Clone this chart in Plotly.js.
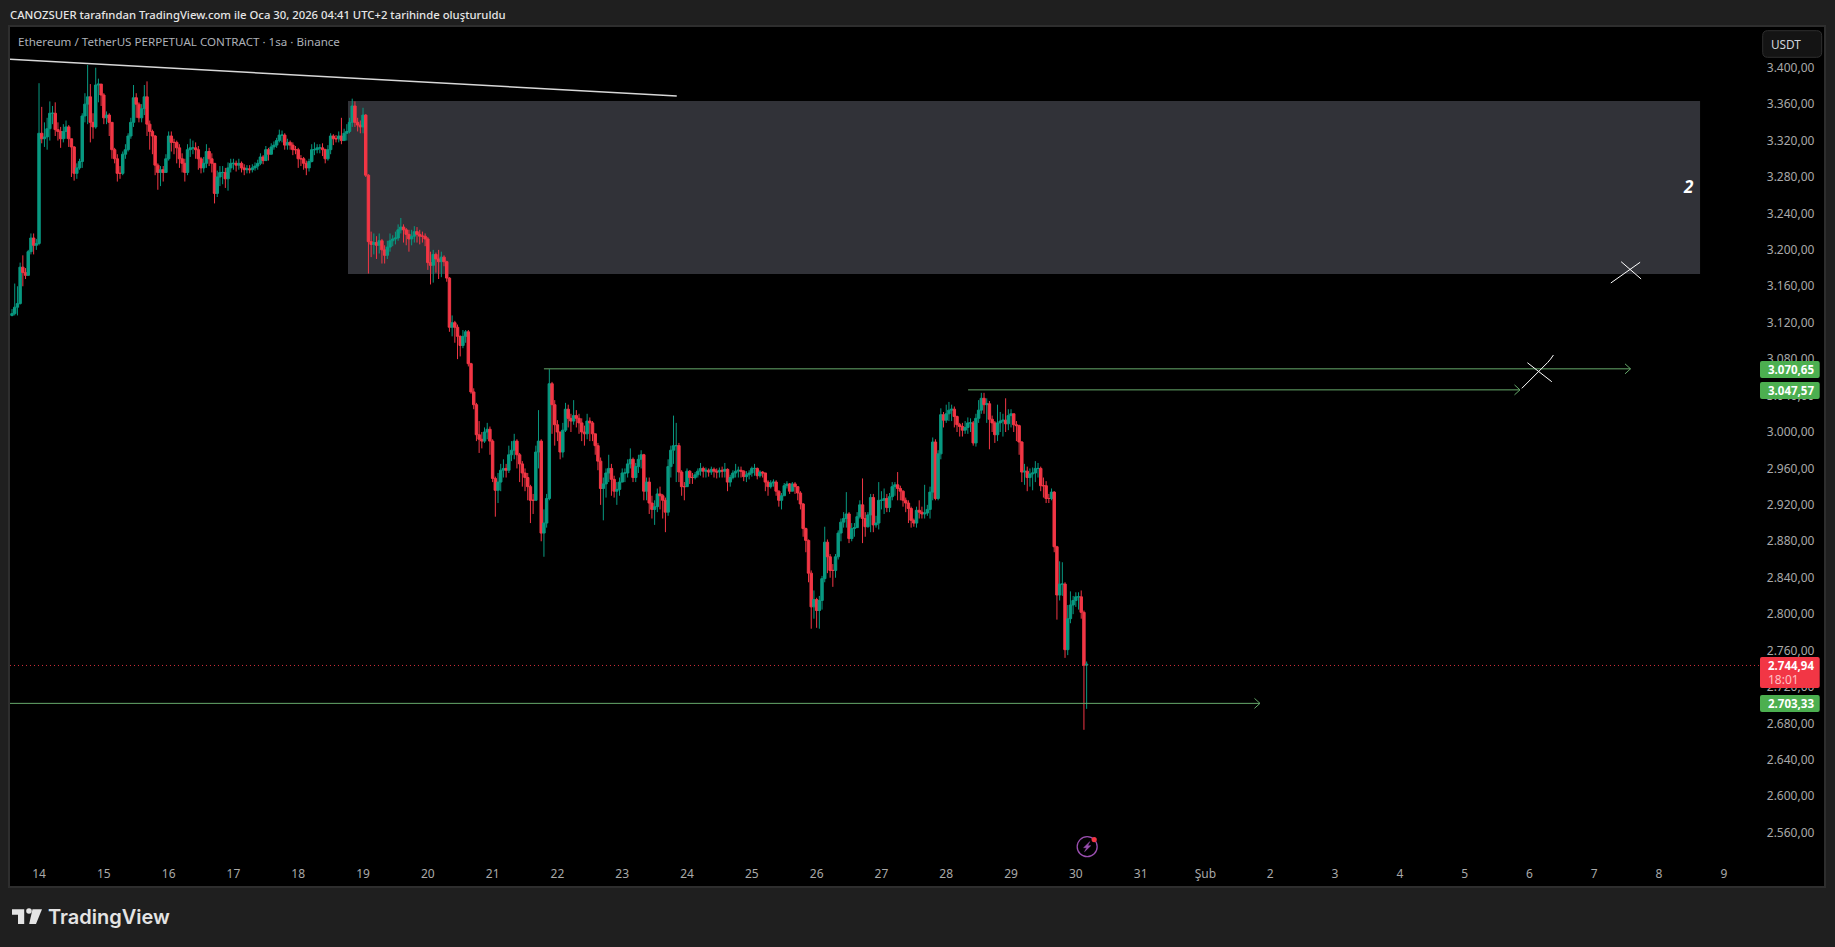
<!DOCTYPE html>
<html><head><meta charset="utf-8">
<script src="https://cdn.plot.ly/plotly-3.0.1.min.js"></script>
<style>html,body{margin:0;padding:0;background:#1f1f1f;overflow:hidden}#c{width:1835px;height:947px}</style>
</head><body><div id="c"></div>
<script>
// Hourly candles, rows: Jan 13 (from 14:00), Jan 14 ... Jan 29, Jan 30 (to 04:00)
const closeRows = [
[3130,3137,3141,3181,3175,3172,3198,3213,3205,3207],
[3328,3322,3324,3333,3350,3350,3332,3330,3322,3330,3335,3322,3313,3284,3290,3297,3347,3360,3368,3340,3335,3381,3382,3370],
[3345,3348,3340,3310,3300,3284,3284,3305,3310,3325,3340,3367,3360,3345,3355,3368,3338,3330,3325,3293,3285,3288,3285,3300],
[3325,3318,3318,3312,3300,3295,3285,3310,3312,3312,3310,3300,3290,3295,3308,3300,3295,3262,3280,3285,3285,3278,3290,3295],
[3295,3293,3295,3290,3288,3289,3288,3290,3292,3295,3302,3298,3310,3305,3313,3315,3320,3326,3326,3315,3318,3315,3310,3310],
[3300,3300,3295,3290,3297,3310,3310,3312,3312,3310,3300,3310,3325,3322,3322,3325,3320,3328,3330,3340,3358,3340,3337,3335],
[3348,3282,3209,3206,3208,3205,3210,3200,3194,3203,3210,3212,3213,3222,3225,3222,3217,3212,3215,3220,3217,3215,3215,3212],
[3186,3183,3195,3190,3187,3192,3187,3169,3115,3120,3115,3105,3095,3105,3110,3075,3044,3030,2997,2992,2990,3000,3003,2990],
[2949,2936,2945,2958,2960,2958,2975,2980,2990,2975,2965,2955,2950,2940,2925,2925,2978,2990,2889,2900,2927,3053,3030,3008],
[3000,2978,3002,3025,3015,3012,3018,3015,3010,3000,2998,3012,3010,2998,2985,2968,2938,2943,2955,2960,2948,2935,2937,2945],
[2955,2955,2965,2970,2950,2962,2970,2975,2935,2945,2922,2915,2918,2932,2930,2925,2912,2962,2980,2985,2985,2956,2940,2940],
[2957,2950,2950,2953,2957,2960,2957,2958,2956,2959,2957,2956,2958,2957,2959,2945,2950,2955,2957,2958,2957,2951,2953,2955],
[2960,2960,2952,2956,2955,2945,2940,2944,2945,2935,2925,2930,2941,2943,2935,2943,2940,2933,2921,2894,2881,2845,2808,2816],
[2804,2815,2839,2879,2863,2848,2848,2863,2889,2901,2905,2910,2883,2894,2895,2907,2920,2905,2896,2909,2928,2898,2900,2925],
[2925,2927,2917,2929,2940,2942,2938,2935,2925,2922,2916,2903,2900,2914,2912,2910,2911,2915,2934,2989,2927,2976,3019,3013],
[3020,3024,3025,3017,3008,3006,3002,3005,3010,3010,2988,3015,3024,3037,3030,3031,3014,3010,2997,3010,3012,3013,3009,3018],
[3020,3008,3007,2989,2956,2957,2950,2954,2955,2960,2960,2941,2941,2927,2927,2934,2874,2821,2833,2833,2761,2795,2810,2815],
[2819,2819,2802,2744,2744.94]
];
const highRows = [
[3135,3163,3160,3186,3194,3180,3200,3218,3218,3212],
[3383,3357,3340,3345,3363,3358,3362,3340,3335,3338,3342,3337,3322,3314,3295,3300,3350,3372,3403,3382,3350,3400,3388,3382],
[3372,3352,3350,3340,3312,3305,3292,3308,3316,3328,3345,3381,3372,3362,3360,3381,3385,3342,3332,3326,3295,3292,3292,3305],
[3330,3330,3322,3320,3316,3306,3300,3316,3322,3320,3318,3314,3302,3302,3316,3312,3306,3295,3287,3292,3292,3290,3296,3300],
[3300,3298,3300,3297,3294,3293,3293,3294,3296,3299,3306,3304,3314,3312,3317,3319,3323,3332,3331,3328,3322,3320,3318,3314],
[3312,3304,3302,3298,3300,3316,3318,3316,3316,3317,3311,3315,3328,3327,3326,3330,3345,3333,3338,3345,3366,3363,3345,3342],
[3356,3349,3283,3220,3218,3215,3218,3212,3205,3210,3218,3216,3220,3228,3235,3228,3224,3222,3222,3226,3225,3222,3220,3218],
[3214,3198,3200,3197,3200,3198,3194,3188,3170,3128,3122,3118,3106,3112,3112,3112,3076,3048,3032,3012,3000,3005,3010,3006],
[2992,2951,2955,2965,2970,2965,2985,2990,2998,2992,2977,2968,2960,2955,2942,2932,2985,3024,2992,2915,2932,3069,3055,3035],
[3013,3000,3010,3032,3030,3020,3035,3024,3020,3015,3007,3020,3016,3012,2998,2988,2972,2950,2960,2975,2965,2952,2945,2950],
[2960,2960,2970,2982,2972,2966,2975,2980,2976,2950,2950,2930,2925,2938,2940,2932,2928,2970,2985,3018,3010,2988,2958,2945],
[2960,2958,2955,2956,2960,2966,2962,2961,2960,2962,2961,2960,2961,2962,2966,2960,2953,2958,2965,2962,2962,2958,2957,2958],
[2962,2965,2961,2958,2957,2955,2947,2947,2948,2947,2936,2933,2944,2946,2944,2945,2945,2940,2935,2922,2895,2882,2848,2826],
[2818,2820,2842,2896,2882,2866,2855,2866,2892,2905,2912,2934,2912,2900,2900,2912,2925,2949,2912,2912,2932,2932,2908,2945],
[2935,2938,2932,2933,2945,2945,2956,2941,2936,2928,2925,2918,2905,2918,2925,2918,2942,2920,2940,2994,2992,2980,3026,3022],
[3030,3033,3030,3028,3018,3010,3010,3012,3016,3015,3012,3020,3035,3043,3043,3037,3034,3018,3012,3030,3022,3020,3037,3025],
[3025,3020,3012,3008,2990,2965,2962,2960,2961,2968,2966,2962,2950,2946,2932,2938,2935,2875,2858,2857,2835,2810,2825,2820],
[2824,2824,2826,2804,2748]
];
const lowRows = [
[3127,3128,3128,3140,3160,3168,3172,3195,3195,3200],
[3205,3317,3313,3310,3320,3338,3325,3320,3312,3318,3322,3313,3280,3276,3278,3288,3290,3340,3338,3318,3322,3333,3362,3358],
[3338,3338,3325,3300,3295,3275,3278,3282,3300,3308,3322,3335,3345,3340,3340,3348,3325,3310,3305,3282,3266,3270,3275,3285],
[3298,3308,3305,3295,3290,3285,3275,3282,3302,3305,3300,3288,3284,3285,3290,3292,3285,3251,3258,3270,3272,3268,3265,3285],
[3288,3286,3288,3285,3282,3284,3284,3285,3287,3288,3293,3294,3298,3298,3306,3310,3312,3318,3318,3310,3310,3310,3304,3305],
[3290,3292,3288,3282,3286,3296,3304,3306,3306,3303,3295,3298,3305,3315,3318,3318,3316,3320,3320,3328,3335,3335,3330,3328],
[3328,3280,3174,3192,3195,3190,3196,3185,3185,3190,3198,3204,3206,3210,3218,3208,3205,3198,3205,3208,3208,3206,3208,3204],
[3178,3162,3164,3175,3168,3170,3182,3165,3110,3105,3098,3080,3083,3092,3098,3072,3042,3025,2990,2977,2982,2988,2992,2975],
[2945,2907,2922,2935,2950,2950,2955,2968,2970,2960,2945,2940,2935,2925,2900,2910,2925,2960,2880,2863,2895,2925,2998,2985],
[2990,2970,2972,3000,3005,3000,3008,3005,2998,2990,2985,2992,2990,2990,2975,2958,2920,2903,2928,2945,2930,2928,2920,2930],
[2945,2945,2950,2960,2945,2945,2955,2960,2925,2925,2910,2905,2898,2912,2915,2905,2890,2908,2950,2965,2945,2945,2930,2925],
[2945,2943,2943,2948,2950,2952,2950,2950,2951,2953,2950,2949,2950,2950,2950,2935,2940,2948,2950,2950,2950,2946,2945,2948],
[2951,2952,2948,2950,2950,2935,2930,2938,2940,2930,2918,2915,2930,2938,2932,2935,2932,2925,2915,2885,2868,2835,2784,2795],
[2785,2784,2805,2835,2845,2840,2830,2840,2860,2880,2895,2895,2878,2880,2885,2895,2905,2878,2885,2895,2890,2890,2895,2893],
[2915,2910,2912,2912,2925,2930,2925,2925,2918,2912,2900,2895,2896,2895,2905,2905,2905,2908,2905,2925,2925,2925,2970,3005],
[3010,3012,3012,3005,3000,2995,2995,2998,2998,3000,2985,2984,3010,3020,3020,3010,2981,3000,2988,2990,3000,2995,3000,3002],
[3005,3000,2990,2975,2945,2942,2935,2940,2936,2945,2950,2935,2928,2922,2922,2925,2868,2794,2815,2820,2752,2755,2790,2800],
[2808,2805,2795,2673,2696]
];
const firstOpen = 3128;
const firstHour = -10;           // hours from 2026-01-14 00:00

const tickDates = ['2026-01-14','2026-01-15','2026-01-16','2026-01-17','2026-01-18','2026-01-19','2026-01-20','2026-01-21','2026-01-22','2026-01-23','2026-01-24','2026-01-25','2026-01-26','2026-01-27','2026-01-28','2026-01-29','2026-01-30','2026-01-31','2026-02-01','2026-02-02','2026-02-03','2026-02-04','2026-02-05','2026-02-06','2026-02-07','2026-02-08','2026-02-09'];
const tickLabels = ['14','15','16','17','18','19','20','21','22','23','24','25','26','27','28','29','30','31','Şub','2','3','4','5','6','7','8','9'];
const priceLast = 2744.94, levelA = 3070.65, levelB = 3047.57, levelC = 2703.33;
const lineNudge = 1.3; // drawn line sits this far under its printed price in the reference

closeRows.forEach((r,i)=>{ if(r.length!==highRows[i].length||r.length!==lowRows[i].length||(i>0&&i<17&&r.length!==24)) throw new Error('row '+i+' '+r.length+' '+highRows[i].length+' '+lowRows[i].length); });
const closes = closeRows.flat(), highs = highRows.flat(), lows = lowRows.flat();
const opens = closes.map((c,i)=> i? closes[i-1] : firstOpen);
const stamp = h => new Date(Date.UTC(2026,0,14,h)).toISOString().slice(0,19).replace('T',' ');
const times = closes.map((c,i)=> stamp(firstHour+i));

const W=1835,H=947,L=10,R=11,T=27,B=61;
const px = x => (x-L)/(W-L-R), py = y => 1-(y-T)/(H-T-B);
const xLeft='2026-01-13 13:15', xRight='2026-02-10 13:06';

function rrect(x0,y0,x1,y1,r){
  const X=a=>px(a).toFixed(5), Y=a=>py(a).toFixed(5);
  return `M ${X(x0+r)} ${Y(y0)} L ${X(x1-r)} ${Y(y0)} Q ${X(x1)} ${Y(y0)} ${X(x1)} ${Y(y0+r)} L ${X(x1)} ${Y(y1-r)} Q ${X(x1)} ${Y(y1)} ${X(x1-r)} ${Y(y1)} L ${X(x0+r)} ${Y(y1)} Q ${X(x0)} ${Y(y1)} ${X(x0)} ${Y(y1-r)} L ${X(x0)} ${Y(y0+r)} Q ${X(x0)} ${Y(y0)} ${X(x0+r)} ${Y(y0)} Z`;
}
const poly = pts => 'M '+pts.map(p=>px(p[0]).toFixed(5)+' '+py(p[1]).toFixed(5)).join(' L ')+' Z';
const pinned = (xa,ya,path,color,w,fill)=>({type:'path',xref:'x',yref:'y',xsizemode:'pixel',ysizemode:'pixel',xanchor:xa,yanchor:ya,path,line:{color,width:w},fillcolor:fill||'rgba(0,0,0,0)'});
const GREEN='#66a96b', RED='#f23645', TAG='#4caf50', LOGO='#e4e4e4';
const yA=levelA-lineNudge, yB=levelB-lineNudge, yC=levelC-lineNudge, yP=priceLast-lineNudge;

const shapes=[
 {type:'rect',xref:'x',yref:'y',x0:'2026-01-18 18:26',x1:'2026-02-08 15:12',y0:3173.4,y1:3363.4,fillcolor:'#313238',line:{width:0},layer:'below'},
 {type:'line',xref:'x',yref:'y',x0:xLeft,x1:'2026-01-23 20:12',y0:3409.2,y1:3368.9,line:{color:'#d8d8d8',width:1.5}},
 {type:'line',xref:'x',yref:'y',x0:xLeft,x1:'2026-02-09 13:24',y0:yP,y1:yP,line:{color:'rgba(242,54,69,0.85)',width:1,dash:'1px,3px'}},
 {type:'line',xref:'x',yref:'y',x0:'2026-01-21 19:00',x1:'2026-02-07 13:26',y0:yA,y1:yA,line:{color:GREEN,width:1}},
 {type:'line',xref:'x',yref:'y',x0:'2026-01-28 08:06',x1:'2026-02-05 20:30',y0:yB,y1:yB,line:{color:GREEN,width:1}},
 {type:'line',xref:'x',yref:'y',x0:xLeft,x1:'2026-02-01 20:12',y0:yC,y1:yC,line:{color:GREEN,width:1}},
 pinned('2026-02-07 13:26',yA,'M -5.5 -5 L 0 0 L -5.5 5',GREEN,1),
 pinned('2026-02-05 20:30',yB,'M -5.5 -5 L 0 0 L -5.5 5',GREEN,1),
 pinned('2026-02-01 20:12',yC,'M -5.5 -5 L 0 0 L -5.5 5',GREEN,1),
 pinned('2026-02-07 13:18',3176.8,'M -19.3 -12 L 10 8.7','#ffffff',1),
 pinned('2026-02-07 13:18',3176.8,'M -9 9.3 L 11 -8','#ffffff',1),
 pinned('2026-02-06 03:24',3066.4,'M -16.8 -16.8 L 9 9 Q 12 12 14.8 16.5','#ffffff',1),
 pinned('2026-02-06 03:24',3066.4,'M -11.2 8.8 L 13.2 -10.2','#ffffff',1),
 // price tags
 {type:'path',xref:'paper',yref:'paper',path:rrect(1760,361,1819.7,378,2),fillcolor:TAG,line:{width:0}},
 {type:'path',xref:'paper',yref:'paper',path:rrect(1760,382,1819.7,399,2),fillcolor:TAG,line:{width:0}},
 {type:'path',xref:'paper',yref:'paper',path:rrect(1760,657,1819.7,688,2),fillcolor:RED,line:{width:0}},
 {type:'path',xref:'paper',yref:'paper',path:rrect(1760,695,1819.7,712,2),fillcolor:TAG,line:{width:0}},
 // USDT button
 {type:'path',xref:'paper',yref:'paper',path:rrect(1762.7,30.7,1821.7,57.3,5),fillcolor:'#141414',line:{color:'#2f2f2f',width:1}},
 // event icon
 {type:'circle',xref:'x',yref:'y',xsizemode:'pixel',ysizemode:'pixel',xanchor:'2026-01-30 04:12',yanchor:2544.7,x0:-10,x1:10,y0:-10,y1:10,line:{color:'#9a4fb0',width:1.3},fillcolor:'rgba(0,0,0,0)'},
 pinned('2026-01-30 04:12',2544.7,'M 2.6 5 L -3.6 -1 L -0.5 -1 L -2.6 -5 L 3.6 1 L 0.5 1 Z','#9a4fb0',0.5,'#9a4fb0'),
 {type:'circle',xref:'x',yref:'y',xsizemode:'pixel',ysizemode:'pixel',xanchor:'2026-01-30 04:12',yanchor:2544.7,x0:4.4,x1:9.6,y0:4.5,y1:9.7,line:{width:0},fillcolor:RED},
 // logo
 {type:'path',xref:'paper',yref:'paper',path:poly([[12,909.3],[24.2,909.3],[24.2,924],[18,924],[18,914.8],[12,914.8]]),fillcolor:LOGO,line:{width:0}},
 {type:'path',xref:'paper',yref:'paper',path:poly([[32.5,909.3],[42,909.3],[36,924],[29.2,924]]),fillcolor:LOGO,line:{width:0}},
 {type:'circle',xref:'paper',yref:'paper',x0:px(26.2),x1:px(31.8),y0:py(913.8),y1:py(908.2),fillcolor:LOGO,line:{width:0}}
];

const FONT='"Noto Sans", sans-serif';
const note=(text,x,y,o={})=>Object.assign({text,xref:'paper',yref:'paper',x:px(x),y:py(y),showarrow:false,xanchor:'left',yanchor:'middle',borderpad:0,font:{family:FONT,size:12,color:'#b2b5be'}},o);
const annotations=[
 note('CANOZSUER tarafından TradingView.com ile Oca 30, 2026 04:41 UTC+2 tarihinde oluşturuldu',9,15,{font:{family:FONT,size:11.3,color:'#e6e6e6',weight:500}}),
 note('Ethereum / TetherUS PERPETUAL CONTRACT · 1sa · Binance',17,42,{font:{family:FONT,size:11.6,color:'#adb0b8'}}),
 note('USDT',1769.5,44.5,{font:{family:FONT,size:11.8,color:'#d1d4dc'}}),
 note('2.744,94',1815,665,{xanchor:'right',font:{family:FONT,size:11.5,color:'#ffffff',weight:700}}),
 note('18:01',1767,679.5,{font:{family:FONT,size:12,color:'#ffc0c5'}}),
 note('3.070,65',1815,369,{xanchor:'right',font:{family:FONT,size:11.5,color:'#ffffff',weight:700}}),
 note('3.047,57',1815,390,{xanchor:'right',font:{family:FONT,size:11.5,color:'#ffffff',weight:700}}),
 note('2.703,33',1815,703,{xanchor:'right',font:{family:FONT,size:11.5,color:'#ffffff',weight:700}}),
 note('2',1688,187,{xanchor:'center',font:{family:FONT,size:17,color:'#ffffff',weight:700,style:'italic'}}),
 note('TradingView',47,917,{font:{family:'Inter, sans-serif',size:20,color:LOGO,weight:600}})
];

const trace={type:'candlestick',x:times,open:opens,high:highs,low:lows,close:closes,
  increasing:{line:{color:'#089981',width:1},fillcolor:'#089981'},
  decreasing:{line:{color:'#f23645',width:1},fillcolor:'#f23645'},
  whiskerwidth:0,hoverinfo:'skip'};

Plotly.newPlot('c',[trace],{
  width:W,height:H,margin:{l:L,r:R,t:T,b:B,pad:0},
  paper_bgcolor:'#1f1f1f',plot_bgcolor:'#000000',showlegend:false,boxgap:0.1,boxgroupgap:0,
  separators:',.',hovermode:false,dragmode:false,
  xaxis:{type:'date',range:[xLeft,xRight],rangeslider:{visible:false},tickmode:'array',tickvals:tickDates,ticktext:tickLabels,
    ticklabelposition:'inside',ticks:'',showgrid:false,zeroline:false,showline:true,mirror:true,linecolor:'#2e2e2e',linewidth:2,
    tickangle:0,tickfont:{family:FONT,size:12,color:'#a9a9a9'},ticklabelstandoff:5},
  yaxis:{side:'right',range:[2501.5,3444.7],tick0:2560,dtick:40,tickformat:',.2f',ticklabelposition:'inside',ticks:'',
    showgrid:false,zeroline:false,showline:true,mirror:true,linecolor:'#2e2e2e',linewidth:2,
    tickfont:{family:FONT,size:12,color:'#a9a9a9'},ticklabelstandoff:9},
  shapes,annotations
},{staticPlot:true,displayModeBar:false});
</script></body></html>
